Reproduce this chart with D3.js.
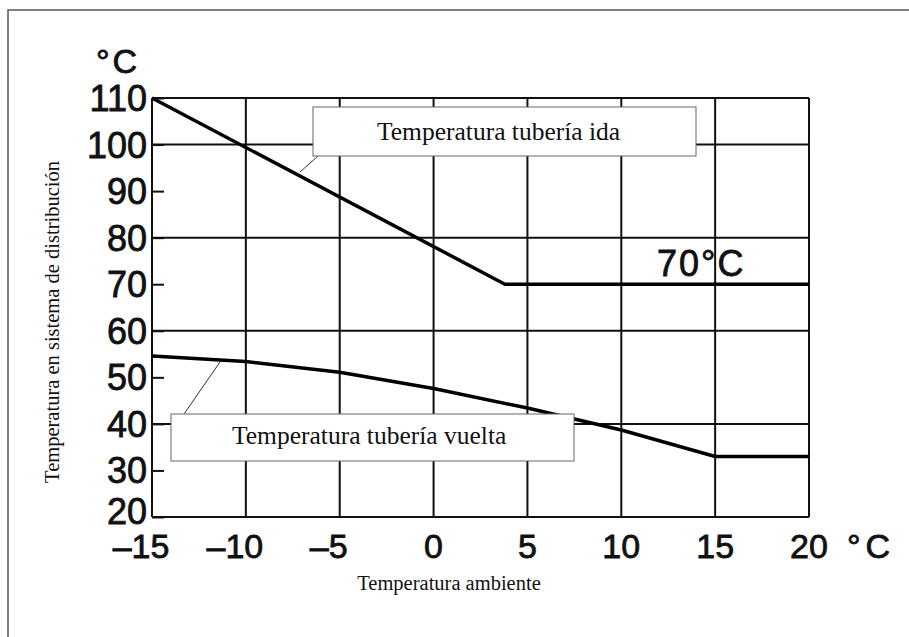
<!DOCTYPE html>
<html>
<head>
<meta charset="utf-8">
<title>Temperatura tubería ida / vuelta</title>
<script src="https://cdn.jsdelivr.net/npm/d3@7"></script>
<style>
    body { margin: 0; background: #fff; }
    .tick-label { font-family: "Liberation Sans", Arial, sans-serif; font-size: 34px; fill: #111; stroke: #111; stroke-width: 0.8px; }
    .serif { font-family: "Liberation Serif", "Times New Roman", serif; fill: #111; }
    .grid { stroke: #111; stroke-width: 2px; }
    .curve { fill: none; stroke: #000; stroke-width: 3.5px; stroke-linejoin: round; }
</style>
</head>
<body>
<script>
// axis values
const xTicks = [-15, -10, -5, 0, 5, 10, 15, 20];
const yTicks = [20, 30, 40, 50, 60, 70, 80, 90, 100, 110];
const yGrid = [20, 40, 60, 80, 100, 110];

// supply (ida) temperature
const idaX = [-15, 3.8, 20];
const idaY = [110, 70, 70];

// return (vuelta) temperature
const vueltaX = [-15, -10, -5, 0, 5, 10, 15, 20];
const vueltaY = [54.6, 53.4, 51.1, 47.6, 43.4, 38.7, 33, 33];

const width = 909, height = 637;

const svg = d3.select("body").append("svg")
    .attr("width", width)
    .attr("height", height);

// outer frame (top + left edge visible)
svg.append("path")
    .attr("d", "M8,637 L8,10 L909,10")
    .attr("fill", "none")
    .attr("stroke", "#555")
    .attr("stroke-width", 1.5);

const x = d3.scaleLinear().domain([-15, 20]).range([152, 809]);
const y = d3.scaleLinear().domain([20, 110]).range([517, 98]);

// vertical grid
svg.append("g").selectAll("line")
    .data(xTicks)
    .join("line")
    .attr("class", "grid")
    .attr("x1", d => x(d)).attr("x2", d => x(d))
    .attr("y1", y(110)).attr("y2", y(20))
    .attr("stroke-width", d => (d === -15 || d === 20) ? 2.5 : 2);

// horizontal grid
svg.append("g").selectAll("line")
    .data(yGrid)
    .join("line")
    .attr("class", "grid")
    .attr("x1", x(-15)).attr("x2", x(20))
    .attr("y1", d => y(d)).attr("y2", d => y(d))
    .attr("stroke-width", d => (d === 20 || d === 110) ? 2.5 : 2);

// left axis with short inward ticks, labels drawn separately
const yAxis = d3.axisLeft(y).tickValues(yTicks).tickSize(-12).tickFormat("");
svg.append("g")
    .attr("transform", "translate(" + x(-15) + ",0)")
    .call(yAxis)
    .call(g => g.select(".domain").remove())
    .call(g => g.selectAll("line").attr("stroke", "#111").attr("stroke-width", 2));

svg.append("g").selectAll("text")
    .data(yTicks)
    .join("text")
    .attr("class", "tick-label")
    .style("font-size", "36px")
    .attr("x", 147)
    .attr("y", d => y(d) - (d === 20 ? 6 : 0))
    .attr("dy", "0.36em")
    .attr("text-anchor", "end")
    .text(d => d);

svg.append("g").selectAll("text")
    .data(xTicks)
    .join("text")
    .attr("class", "tick-label")
    .attr("x", d => x(d) + (d < 0 ? -11 : 0))
    .attr("y", 558)
    .attr("text-anchor", "middle")
    .text(d => d < 0 ? "\u2013" + Math.abs(d) : d);

// units
svg.append("text").attr("class", "tick-label")
    .style("letter-spacing", "3px")
    .attr("x", 96).attr("y", 73).text("°C");
svg.append("text").attr("class", "tick-label")
    .style("letter-spacing", "5px")
    .attr("x", 847).attr("y", 558).text("°C");

// curves
const line = d3.line().x(d => x(d[0])).y(d => y(d[1]));

svg.append("path")
    .attr("class", "curve")
    .attr("d", line(d3.zip(idaX, idaY)));

svg.append("path")
    .attr("class", "curve")
    .attr("d", line(d3.zip(vueltaX, vueltaY)));

svg.append("text").attr("class", "tick-label")
    .style("font-size", "36px")
    .style("letter-spacing", "2px")
    .attr("x", 657).attr("y", 276).text("70°C");

// callout boxes
function callout(bx, by, bw, bh, label, tx, ty, lx1, ly1, lx2, ly2) {
    svg.append("line")
        .attr("x1", lx1).attr("y1", ly1).attr("x2", lx2).attr("y2", ly2)
        .attr("stroke", "#333").attr("stroke-width", 1);
    svg.append("rect")
        .attr("x", bx).attr("y", by).attr("width", bw).attr("height", bh)
        .attr("fill", "#fff").attr("stroke", "#666").attr("stroke-width", 1);
    svg.append("text").attr("class", "serif")
        .attr("x", tx).attr("y", ty)
        .attr("font-size", 25.5)
        .text(label);
}

callout(313, 107, 383, 49, "Temperatura tubería ida", 377, 140, 318, 156, 300, 172);
callout(171, 414, 403, 47, "Temperatura tubería vuelta", 232, 444, 184, 414, 220, 362);

// axis titles
svg.append("text").attr("class", "serif")
    .attr("x", 449).attr("y", 590)
    .attr("text-anchor", "middle")
    .attr("font-size", 20.5)
    .text("Temperatura ambiente");

svg.append("text").attr("class", "serif")
    .attr("transform", "translate(59,322) rotate(-90)")
    .attr("text-anchor", "middle")
    .attr("font-size", 20.5)
    .text("Temperatura en sistema de distribución");
</script>
</body>
</html>
